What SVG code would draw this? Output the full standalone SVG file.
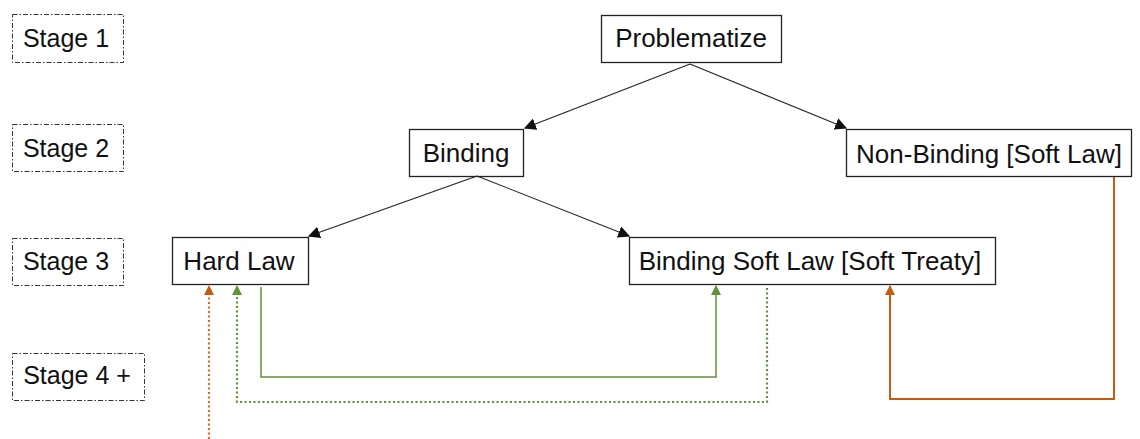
<svg xmlns="http://www.w3.org/2000/svg" width="1140" height="439" viewBox="0 0 1140 439">
<style>
.stage{fill:#fff;stroke:#333;stroke-width:1;stroke-dasharray:5 2 1.5 2}
.node{fill:#fff;stroke:#222;stroke-width:1.3}
text{font-family:"Liberation Sans",Arial,sans-serif;font-size:25px;fill:#111;text-anchor:middle}
.nt{font-size:26px}
.blk{stroke:#222;stroke-width:1.1;fill:none}
.gr{stroke:#5f9435;stroke-width:1.5;fill:none}
.grd{stroke:#5f9435;stroke-width:2.2;fill:none;stroke-dasharray:2 2.5}
.or{stroke:#c55a11;stroke-width:2;fill:none}
.ord{stroke:#d86a1f;stroke-width:2.2;fill:none;stroke-dasharray:2 2.5}
</style>
<defs>
<marker id="ab" viewBox="0 0 10 10" refX="9" refY="5" markerWidth="12" markerHeight="12" markerUnits="userSpaceOnUse" orient="auto"><path d="M0,0 L10,5 L0,10 z" fill="#111"/></marker>
<marker id="ag" viewBox="0 0 10 10" refX="9" refY="5" markerWidth="10" markerHeight="10" markerUnits="userSpaceOnUse" orient="auto"><path d="M0,0 L10,5 L0,10 z" fill="#5f9435"/></marker>
<marker id="ao" viewBox="0 0 10 10" refX="9" refY="5" markerWidth="10" markerHeight="10" markerUnits="userSpaceOnUse" orient="auto"><path d="M0,0 L10,5 L0,10 z" fill="#c55a11"/></marker>
</defs>
<g id="stage1"><rect class="stage" x="12.5" y="14.5" width="111" height="48"/><text x="66" y="47">Stage 1</text></g>
<g id="stage2"><rect class="stage" x="12.5" y="124.5" width="111" height="47"/><text x="66" y="157">Stage 2</text></g>
<g id="stage3"><rect class="stage" x="12.5" y="238.5" width="111" height="47"/><text x="66" y="270">Stage 3</text></g>
<g id="stage4"><rect class="stage" x="12.5" y="353.5" width="132" height="47"/><text x="77" y="384">Stage 4 +</text></g>
<g id="problematize"><rect class="node" x="601.5" y="15.5" width="180" height="47"/><text class="nt" x="691" y="47">Problematize</text></g>
<g id="binding"><rect class="node" x="409.5" y="129.5" width="114" height="47"/><text class="nt" x="466" y="162">Binding</text></g>
<g id="nonbinding"><rect class="node" x="846.5" y="129.5" width="285" height="47"/><text class="nt" x="989" y="163">Non-Binding [Soft Law]</text></g>
<g id="hardlaw"><rect class="node" x="172.5" y="237.5" width="136" height="47"/><text class="nt" x="239" y="270">Hard Law</text></g>
<g id="bindingsoftlaw"><rect class="node" x="629.5" y="237.5" width="366" height="47"/><text class="nt" x="810" y="270">Binding Soft Law [Soft Treaty]</text></g>
<g id="connectors">
<line class="blk" x1="690" y1="64" x2="525" y2="128" marker-end="url(#ab)"/>
<line class="blk" x1="690" y1="64" x2="846" y2="128" marker-end="url(#ab)"/>
<line class="blk" x1="477" y1="176" x2="309" y2="236" marker-end="url(#ab)"/>
<line class="blk" x1="477" y1="176" x2="629" y2="236" marker-end="url(#ab)"/>
<polyline class="gr" points="261,287 261,377 716,377 716,286" marker-end="url(#ag)"/>
<polyline class="grd" points="767,288 767,402 237,402 237,286" marker-end="url(#ag)"/>
<polyline class="or" points="1114,177 1114,399 890,399 890,286" marker-end="url(#ao)"/>
<line class="ord" x1="209" y1="439" x2="209" y2="286" marker-end="url(#ao)"/>
</g>
</svg>
